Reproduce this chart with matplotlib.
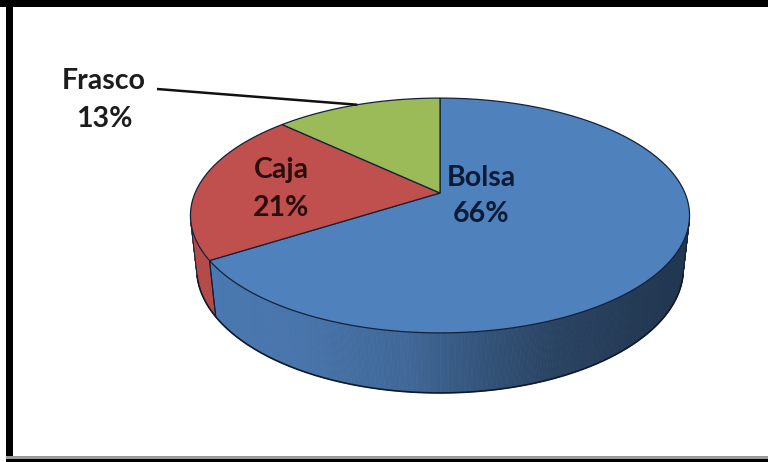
import numpy as np
import matplotlib
matplotlib.use("Agg")
import matplotlib.pyplot as plt
from matplotlib.patches import Polygon, Rectangle
from matplotlib.colors import to_rgb

# Data
categories = ["Bolsa", "Caja", "Frasco"]
shares = [66, 21, 13]
pct_labels = ["66%", "21%", "13%"]
top_colors = ["#4f81bd", "#c0504d", "#9bbb59"]
text_colors = ["#0b1a36", "#2a0d0c", "#1c1c1c"]

# 3D pie projection (pixel space, y downwards)
CX, CY = 440.0, 193.0          # projected pie centre
F, DIST = 1134.0, 4.63         # focal length / camera distance
TILT = np.radians(27.5)
THICK = 0.246                  # pie thickness relative to radius
S, C = np.sin(TILT), np.cos(TILT)


def project(theta_deg, w):
    """theta measured clockwise from 12 o'clock, w = height (0 top, -THICK bottom)."""
    th = np.radians(theta_deg)
    u, v = np.sin(th), np.cos(th)
    X = u
    Y = v * S + w * C
    Z = v * C - w * S
    return CX + F * X / (DIST + Z), CY - F * Y / (DIST + Z)


def side_factor(x):
    xs = [190, 300, 410, 470, 560, 690]
    fs = [0.94, 0.90, 0.80, 0.67, 0.51, 0.42]
    return np.interp(x, xs, fs)


fig = plt.figure(figsize=(7.68, 4.62), dpi=100)
ax = fig.add_axes([0, 0, 1, 1])
ax.set_xlim(0, 768)
ax.set_ylim(462, 0)
ax.axis("off")

total = float(sum(shares))
bounds = np.concatenate([[0], np.cumsum(shares) / total * 360.0])

# visible part of the cylinder wall
vis_lo, vis_hi = 104.0, 256.0
edge_dark = "#14213a"

for i in range(len(shares)):
    a0, a1 = max(bounds[i], vis_lo), min(bounds[i + 1], vis_hi)
    if a1 <= a0:
        continue
    base = np.array(to_rgb(top_colors[i]))
    ths = np.linspace(a0, a1, int((a1 - a0) * 3) + 2)
    for t0, t1 in zip(ths[:-1], ths[1:]):
        x0t, y0t = project(t0, 0)
        x1t, y1t = project(t1, 0)
        x0b, y0b = project(t0, -THICK)
        x1b, y1b = project(t1, -THICK)
        fac = side_factor(0.5 * (x0t + x1t))
        col = np.clip(base * fac, 0, 1)
        ax.add_patch(Polygon([(x0t, y0t), (x1t, y1t), (x1b, y1b), (x0b, y0b)],
                             closed=True, facecolor=col, edgecolor=col,
                             linewidth=0.6, zorder=2))
    # vertical edges of the wall
    for a in (a0, a1):
        xt, yt = project(a, 0)
        xb, yb = project(a, -THICK)
        ax.plot([xt, xb], [yt, yb], color=edge_dark, lw=0.8, zorder=3)

# bottom rim
ths = np.linspace(vis_lo, vis_hi, 300)
bx, by = project(ths, -THICK)
ax.plot(bx, by, color="#10192b", lw=1.2, zorder=3)

# top face slices
for i in range(len(shares)):
    ths = np.linspace(bounds[i], bounds[i + 1], 200)
    xs, ys = project(ths, 0)
    pts = [(CX, CY)] + list(zip(xs, ys))
    ax.add_patch(Polygon(pts, closed=True, facecolor=top_colors[i],
                         edgecolor=edge_dark, linewidth=0.9, zorder=4))

# labels
font = dict(family=["Lato", "DejaVu Sans"], fontweight="bold", fontsize=20.5)
label_pos = {"Bolsa": (481, 178, 214), "Caja": (281, 170, 208)}
for i, name in enumerate(categories[:2]):
    x, y1, y2 = label_pos[name]
    ax.text(x, y1, name, ha="center", va="center", color=text_colors[i], zorder=6, **font)
    ax.text(x, y2, pct_labels[i], ha="center", va="center", color=text_colors[i], zorder=6, **font)

# Frasco label outside with leader line
ax.text(104, 81, categories[2], ha="center", va="center", color=text_colors[2], zorder=6, **font)
ax.text(104, 119, pct_labels[2], ha="center", va="center", color=text_colors[2], zorder=6, **font)
mid = 0.5 * (bounds[2] + bounds[3])
ex, ey = project(mid, 0)
ax.plot([157, ex], [89, ey], color="#111111", lw=1.8, zorder=5, solid_capstyle="butt")

# frame
ax.add_patch(Rectangle((0, 0), 768, 7, facecolor="black", edgecolor="none", zorder=10))
ax.add_patch(Rectangle((6, 0), 6.5, 462, facecolor="black", edgecolor="none", zorder=10))
ax.add_patch(Rectangle((6, 456), 762, 3, facecolor="#9a9a9a", edgecolor="none", zorder=10))
ax.add_patch(Rectangle((6, 459), 762, 3, facecolor="black", edgecolor="none", zorder=10))

fig.savefig("out.png", dpi=100)
